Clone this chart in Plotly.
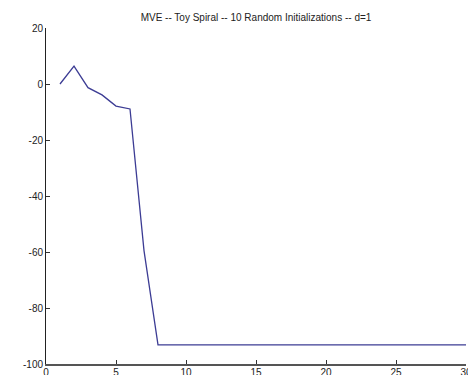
import plotly.graph_objects as go

iterations = list(range(1, 31))
values = [0, 6.4, -1.3, -3.9, -7.9, -8.9, -59.5, -93.2] + [-93.2] * 22

y_ticks = [20, 0, -20, -40, -60, -80, -100]
y_tick_text = ["20", "0", "-20", "-40", "-60", "-80", "-100"]
x_ticks = [0, 5, 10, 15, 20, 25, 30]
x_tick_text = ["0", "5", "10", "15", "20", "25", "30"]

title_text = "MVE -- Toy Spiral -- 10 Random Initializations -- d=1"

fig = go.Figure()
fig.add_trace(go.Scatter(x=iterations, y=values, mode="lines",
                         line=dict(color="#3c3c94", width=1.3), showlegend=False))

fig.update_layout(
    width=468, height=375,
    margin=dict(l=46, r=2, t=28, b=11, autoexpand=False),
    paper_bgcolor="white", plot_bgcolor="white",
    font=dict(family="Liberation Sans, Arial, sans-serif", size=10, color="#222"),
    title=dict(text=title_text, x=(46 + 466) / 2 / 468, xanchor="center",
               y=1 - 17 / 375, yanchor="middle", yref="container",
               font=dict(size=10, color="#222")),
)
fig.update_xaxes(range=[0, 30], tickvals=x_ticks, ticktext=x_tick_text,
                 showgrid=False, zeroline=False, showline=True, linecolor="#555",
                 linewidth=2, ticks="inside", ticklen=4, tickcolor="#333", mirror=False,
                 automargin=False, ticklabelstandoff=-2, ticklabeloverflow="allow")
fig.update_yaxes(range=[-100, 20], tickvals=y_ticks, ticktext=y_tick_text,
                 showgrid=False, zeroline=False, showline=True, linecolor="#222",
                 linewidth=1, ticks="inside", ticklen=4, tickcolor="#333", mirror=False,
                 automargin=False, ticklabeloverflow="allow")

fig.write_html("out.html", config={"displayModeBar": False},
               post_script="document.body.style.margin='0';document.body.style.overflow='hidden';")
